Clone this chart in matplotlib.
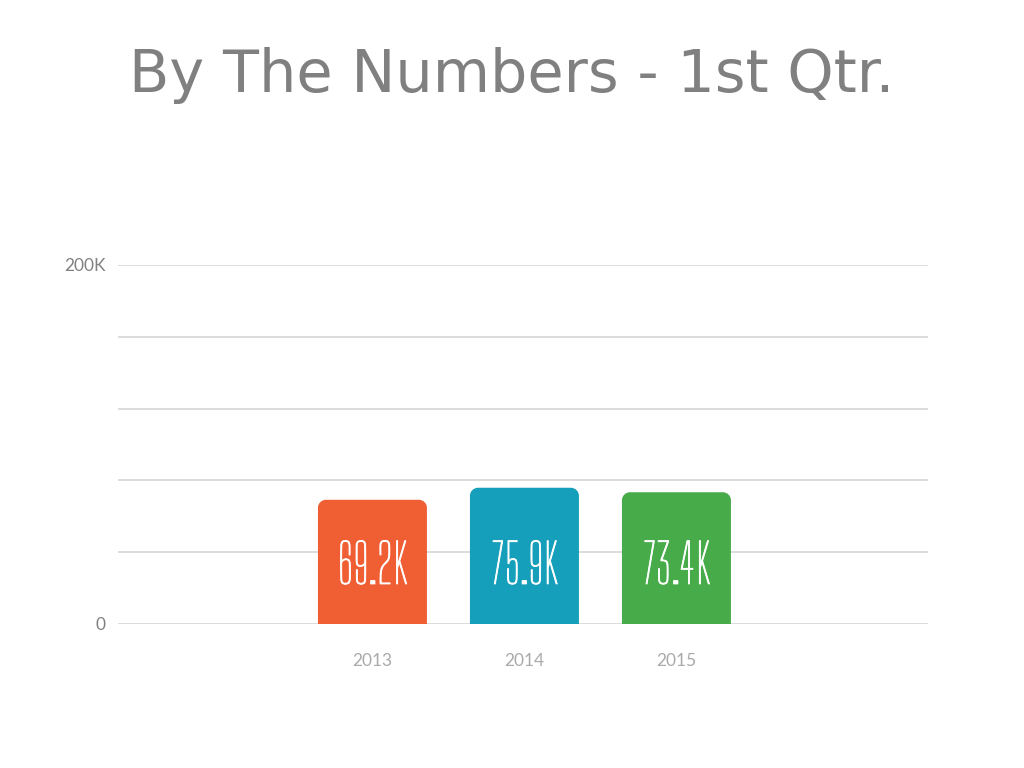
import matplotlib
matplotlib.use("Agg")
import matplotlib.pyplot as plt
import matplotlib.patheffects as pe
from matplotlib.path import Path
from matplotlib.patches import PathPatch
from matplotlib import font_manager

years = ["2013", "2014", "2015"]
values = [69200, 75900, 73400]
value_labels = ["69.2K", "75.9K", "73.4K"]
colors = ["#F05F33", "#159FBA", "#47AB4A"]
ytick_vals = [0, 40000, 80000, 120000, 160000, 200000]
ytick_labels = ["0", "", "", "", "", "200K"]

names = {f.name for f in font_manager.fontManager.ttflist}
label_font = "Big Shoulders Display" if "Big Shoulders Display" in names else "DejaVu Sans"

fig = plt.figure(figsize=(10.24, 7.68), dpi=100)
ax = fig.add_axes([118/1024, 1-624/768, 810/1024, 359/768])

x = list(range(len(years)))
width = 0.717
bars = ax.bar(x, values, width=width, color="none", edgecolor="none")
ax.set_xlim(-1.674, 3.655)
ax.set_ylim(0, 200000)

# rounded top corners (radius ~8 px)
px_per_x = 810 / (3.655 + 1.674)
px_per_y = 359 / 200000
rx = 8 / px_per_x
ry = 8 / px_per_y
k = 0.5523
for b, c in zip(bars, colors):
    x0 = b.get_x(); x1 = x0 + b.get_width(); h = b.get_height()
    verts = [(x0, 0), (x0, h - ry),
             (x0, h - ry + k*ry), (x0 + rx - k*rx, h), (x0 + rx, h),
             (x1 - rx, h),
             (x1 - rx + k*rx, h), (x1, h - ry + k*ry), (x1, h - ry),
             (x1, 0), (x0, 0)]
    codes = [Path.MOVETO, Path.LINETO,
             Path.CURVE4, Path.CURVE4, Path.CURVE4,
             Path.LINETO,
             Path.CURVE4, Path.CURVE4, Path.CURVE4,
             Path.LINETO, Path.CLOSEPOLY]
    ax.add_patch(PathPatch(Path(verts, codes), facecolor=c, edgecolor="none", zorder=3))

for xi, lab in zip(x, value_labels):
    ax.text(xi, 31500, lab, ha="center", va="center", color="white",
            fontsize=39, family=label_font, zorder=4,
            path_effects=[pe.withStroke(linewidth=0.6, foreground="white")])

ax.set_yticks(ytick_vals)
ax.set_yticklabels(ytick_labels, family="Lato", fontsize=12.5, color="#808080")
ax.set_xticks(x)
ax.set_xticklabels(years, family="Lato", fontsize=12.5, color="#AAAAAA")
ax.tick_params(axis="both", length=0)
ax.tick_params(axis="x", pad=21)
ax.tick_params(axis="y", pad=9)
ax.grid(axis="y", color="#D9D9D9", linewidth=1.3, zorder=0)
ax.set_axisbelow(True)
for s in ax.spines.values():
    s.set_visible(False)

fig.text(0.5, 1-92/768, "By The Numbers - 1st Qtr.", ha="center", va="baseline",
         fontsize=42.4, color="#808080", family="DejaVu Sans")

fig.savefig("out.png", dpi=100)
